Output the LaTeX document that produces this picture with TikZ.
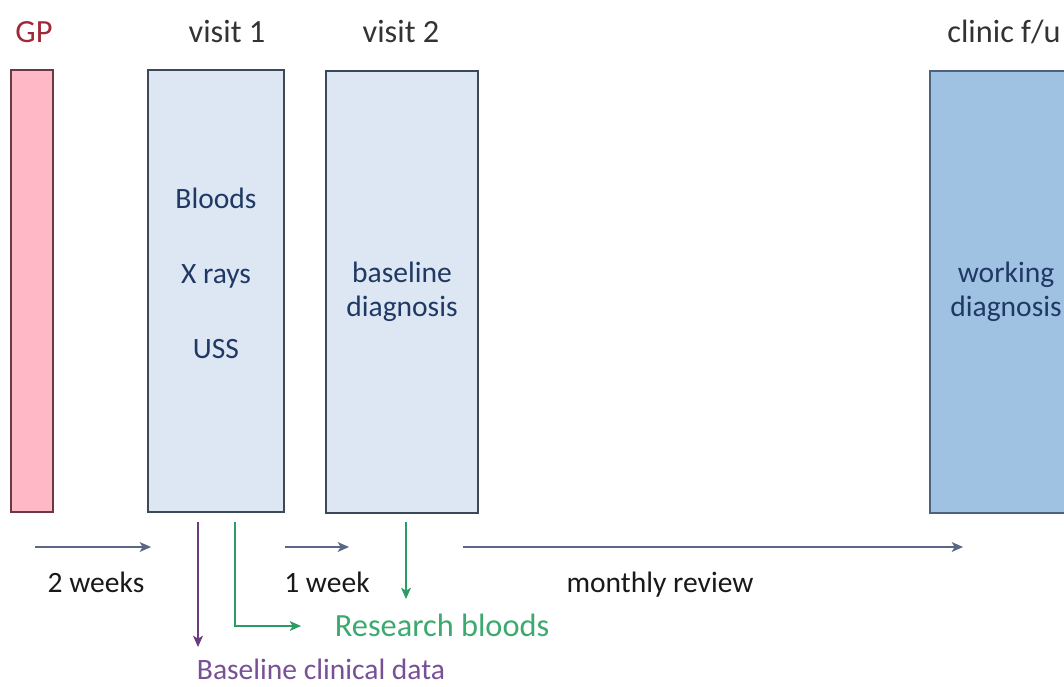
\documentclass[tikz,border=0pt]{standalone}
\usepackage{fontspec}
\setmainfont{Carlito}
\usetikzlibrary{positioning, arrows.meta}
\definecolor{gpfill}{RGB}{255,184,197}
\definecolor{gpline}{RGB}{110,55,70}
\definecolor{gptext}{RGB}{160,40,55}
\definecolor{visfill}{RGB}{221,231,243}
\definecolor{visline}{RGB}{60,72,88}
\definecolor{clinfill}{RGB}{160,194,226}
\definecolor{clinline}{RGB}{75,98,128}
\definecolor{boxtext}{RGB}{31,56,100}
\definecolor{timeline}{RGB}{90,104,135}
\definecolor{purpline}{RGB}{105,60,125}
\definecolor{purptext}{RGB}{120,80,150}
\definecolor{grnline}{RGB}{45,155,100}
\definecolor{grntext}{RGB}{60,170,110}
\tikzstyle{stage}=[draw, line width=1pt, inner sep=0pt, align=center,
  minimum height=11.05cm, text=boxtext, font=\fontsize{21}{24}\selectfont]
\tikzstyle{header}=[anchor=base, text=black!80, font=\fontsize{23}{27}\selectfont]
\tikzstyle{timeText}=[anchor=base, text=black!90, font=\fontsize{21}{24}\selectfont]
\tikzstyle{testText}=[anchor=base, text=boxtext, font=\fontsize{21}{24}\selectfont]
\tikzstyle{arrow}=[->, line width=1pt, >={Stealth[length=8pt, width=7pt, inset=2pt]}, draw=timeline]

\begin{document}
\begin{tikzpicture}[x=0.025cm, y=-0.025cm]
  \useasboundingbox (0,0) rectangle (1064,686);
  % boxes
  \node[stage, fill=gpfill, draw=gpline, minimum width=1.05cm] (gp) at (32,291) {};
  \node[stage, fill=visfill, draw=visline, minimum width=3.4cm] (visit1) at (216,291) {};
  \node[stage, fill=visfill, draw=visline, minimum width=3.8cm] (visit2) at (402,292) {baseline\\diagnosis};
  \node[stage, fill=clinfill, draw=clinline, minimum width=3.8cm] (clinic) at (1006,292) {working\\diagnosis};

  % headers
  \node[header, text=gptext] (gpHead) at (34,42) {GP};
  \node[header] (v1Head) at (227,42) {visit 1};
  \node[header] (v2Head) at (401,42) {visit 2};
  \node[header] (clinHead) at (1004,42) {clinic f/u};

  % tests at visit 1
  \node[testText] (bloods) at (216,208) {Bloods};
  \node[testText] (xrays) at (216,283) {X rays};
  \node[testText] (uss) at (216,358) {USS};

  % time line
  \coordinate (w2a) at (35,547);
  \coordinate (w2b) at (151,547);
  \coordinate (w1a) at (285,547);
  \coordinate (w1b) at (349,547);
  \coordinate (mra) at (463,547);
  \coordinate (mrb) at (963,547);
  \foreach \a/\b in {w2a/w2b, w1a/w1b, mra/mrb}
    \draw[arrow] (\a) -- (\b);
  \node[timeText] (twoWeeks) at (96,592) {2 weeks};
  \node[timeText] (oneWeek) at (327,592) {1 week};
  \node[timeText] (monthly) at (660,592) {monthly review};

  % research and clinical data
  \coordinate (p1) at (198,522);
  \coordinate (p2) at (198,647);
  \coordinate (g1) at (235,522);
  \coordinate (g2) at (301,626);
  \coordinate (g3) at (406,522);
  \coordinate (g4) at (406,599);
  \draw[arrow, draw=purpline] (p1) -- (p2);
  \draw[arrow, draw=grnline] (g1) |- (g2);
  \draw[arrow, draw=grnline] (g3) -- (g4);
  \node[timeText, anchor=base west, text=grntext, font=\fontsize{23}{27}\selectfont] (research) at (330,636) {Research bloods};
  \node[timeText, anchor=base west, text=purptext] (clinData) at (192,679) {Baseline clinical data};
\end{tikzpicture}
\end{document}
